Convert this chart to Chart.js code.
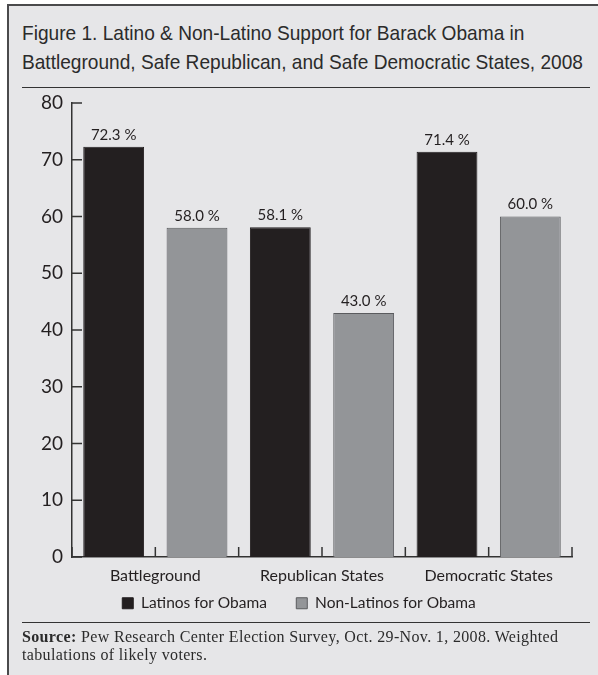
<!DOCTYPE html>
<html lang="en">
<head>
<meta charset="utf-8" />
<title>Latino &amp; Non-Latino Support for Obama</title>
<script src="https://cdn.jsdelivr.net/npm/chart.js@4.4.0/dist/chart.umd.min.js"></script>
<style>
	html, body { margin: 0; padding: 0; background: #fff; }
	body { width: 598px; height: 675px; position: relative; overflow: hidden; }
	#frame {
		position: absolute; left: 7px; top: 4px; width: 620px; height: 700px;
		border-left: 2.5px solid #4a4a4c; border-top: 2.5px solid #4a4a4c;
		background: #e6e6e8;
	}
	#title {
		position: absolute; left: 22px; top: 18px;
		font-family: "Liberation Sans", Arial, sans-serif;
		font-size: 21px; line-height: 29px; color: #2b2b2b; white-space: nowrap;
		transform: scaleX(0.91); transform-origin: 0 0;
	}
	.rule { position: absolute; left: 22px; width: 568px; height: 0; border-top: 1.5px solid #333; }
	#source {
		position: absolute; left: 22px; top: 628px;
		font-family: "Liberation Serif", "DejaVu Serif", serif;
		font-size: 16px; letter-spacing: 0.35px; line-height: 17.5px; color: #2b2b2b; white-space: nowrap;
	}
	#chart { position: absolute; left: 0; top: 0; }
</style>
</head>
<body>
	<div id="frame"></div>
	<div id="title">Figure 1. Latino &amp; Non-Latino Support for Barack Obama in<br>Battleground, Safe Republican, and Safe Democratic States, 2008</div>
	<div class="rule" style="top:87px"></div>
	<canvas id="chart" width="598" height="675"></canvas>
	<div class="rule" style="top:622px"></div>
	<div id="source"><b>Source:</b> Pew Research Center Election Survey, Oct. 29-Nov. 1, 2008. Weighted<br>tabulations of likely voters.</div>

<script>
// data
var categories = ["Battleground", "Republican States", "Democratic States"];
var latinos = [72.3, 58.1, 71.4];
var nonLatinos = [58.0, 43.0, 60.0];
var yTicks = [0, 10, 20, 30, 40, 50, 60, 70, 80];

var sans = "Lato, 'Open Sans', sans-serif";
var ink = "#231f20";

// value labels above each bar
var valueLabels = {
	id: "valueLabels",
	afterDatasetsDraw: function (chart) {
		var ctx = chart.ctx;
		ctx.save();
		ctx.font = "15px " + sans;
		ctx.fillStyle = ink;
		ctx.textAlign = "center";
		ctx.textBaseline = "middle";
		chart.data.datasets.forEach(function (ds, i) {
			chart.getDatasetMeta(i).data.forEach(function (bar, j) {
				ctx.fillText(ds.data[j].toFixed(1) + " %", bar.x, bar.y - 12);
			});
		});
		ctx.restore();
	}
};

// inward tick marks on both axes
var innerTicks = {
	id: "innerTicks",
	afterDraw: function (chart) {
		var ctx = chart.ctx, area = chart.chartArea;
		var x = chart.scales.x, y = chart.scales.y;
		ctx.save();
		ctx.strokeStyle = "#333";
		ctx.lineWidth = 1.5;
		ctx.beginPath();
		yTicks.forEach(function (v) {
			var py = y.getPixelForValue(v);
			ctx.moveTo(area.left, py);
			ctx.lineTo(area.left + 10, py);
		});
		var half = (x.getPixelForValue(1) - x.getPixelForValue(0)) / 2;
		categories.forEach(function (c, i) {
			var cx = x.getPixelForValue(i);
			[cx - half, cx, cx + half].forEach(function (px) {
				ctx.moveTo(px, area.bottom);
				ctx.lineTo(px, area.bottom - 10);
			});
		});
		ctx.stroke();
		ctx.restore();
	}
};

new Chart(document.getElementById("chart"), {
	type: "bar",
	data: {
		labels: categories,
		datasets: [
			{
				label: "Latinos for Obama",
				data: latinos,
				backgroundColor: ink,
				borderColor: ink,
				borderWidth: 1
			},
			{
				label: "Non-Latinos for Obama",
				data: nonLatinos,
				backgroundColor: "#939598",
				borderColor: "#5a5b5e",
				borderWidth: 1
			}
		]
	},
	options: {
		responsive: false,
		animation: false,
		categoryPercentage: 1,
		barPercentage: 0.73,
		layout: { padding: { top: 103, left: 26, right: 26, bottom: 54 } },
		plugins: {
			title: { display: false },
			tooltip: { enabled: false },
			legend: {
				position: "bottom",
				labels: {
					boxWidth: 11,
					boxHeight: 11,
					padding: 10,
					color: ink,
					font: { family: sans, size: 15.5 },
					generateLabels: function (chart) {
						var items = Chart.defaults.plugins.legend.labels.generateLabels(chart);
						// wider gap between the two entries, as in the figure
						items[0].text += "\u2003\u2002";
						return items;
					}
				}
			}
		},
		scales: {
			x: {
				offset: true,
				grid: { display: false, drawTicks: false },
				border: { display: true, color: "#333", width: 1.5 },
				ticks: { color: ink, padding: 9.5, font: { family: sans, size: 16 } },
				afterFit: function (s) { s.height = 28.5; }
			},
			y: {
				min: 0,
				max: 80,
				grid: { display: false, drawTicks: false },
				border: { display: true, color: "#333", width: 1.5 },
				ticks: {
					stepSize: 10,
					padding: 9,
					color: ink,
					font: { family: sans, size: 19 }
				},
				afterFit: function (s) { s.width = 46; }
			}
		}
	},
	plugins: [valueLabels, innerTicks]
});
</script>
</body>
</html>
